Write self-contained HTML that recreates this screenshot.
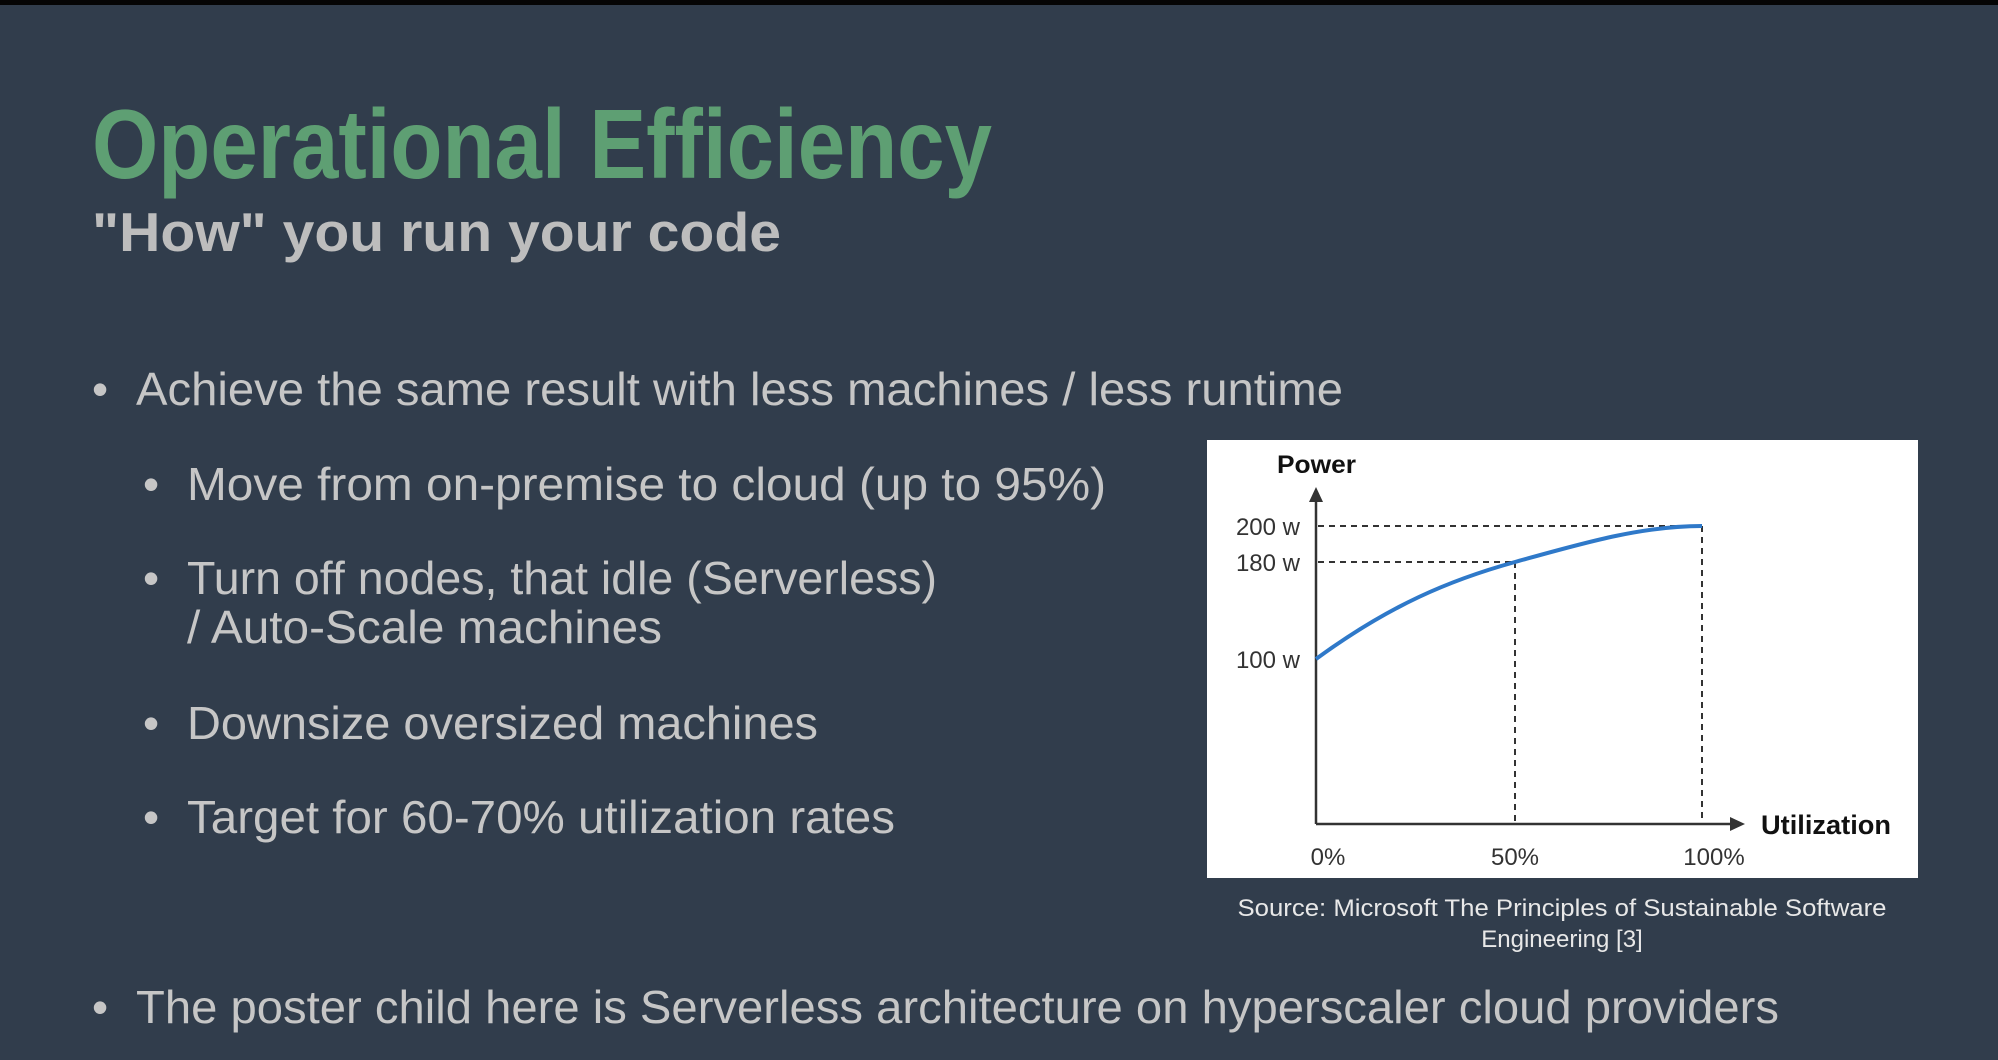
<!DOCTYPE html>
<html><head><meta charset="utf-8"><style>
html,body{margin:0;padding:0;background:#313d4c;}
svg{display:block;}
text{font-family:"Liberation Sans",Arial,sans-serif;}
</style></head><body>
<svg width="1998" height="1060" viewBox="0 0 1998 1060" xmlns="http://www.w3.org/2000/svg">
<rect width="1998" height="1060" fill="#313d4c"/>
<rect width="1998" height="5" fill="#050505"/>
<text x="92" y="178" font-size="98" font-weight="bold" fill="#5e9f73" textLength="900" lengthAdjust="spacingAndGlyphs">Operational Efficiency</text>
<text x="92" y="251" font-size="55" font-weight="bold" fill="#bdbdbd" textLength="689" lengthAdjust="spacingAndGlyphs">"How" you run your code</text>
<g fill="#c6c6c6" font-size="46">
<text x="92" y="405">•</text>
<text x="136" y="405" textLength="1207" lengthAdjust="spacingAndGlyphs">Achieve the same result with less machines / less runtime</text>
<text x="143" y="500">•</text>
<text x="187" y="500" textLength="919" lengthAdjust="spacingAndGlyphs">Move from on-premise to cloud (up to 95%)</text>
<text x="143" y="594">•</text>
<text x="187" y="594" textLength="750" lengthAdjust="spacingAndGlyphs">Turn off nodes, that idle (Serverless)</text>
<text x="187" y="643" textLength="475" lengthAdjust="spacingAndGlyphs">/ Auto-Scale machines</text>
<text x="143" y="739">•</text>
<text x="187" y="739" textLength="631" lengthAdjust="spacingAndGlyphs">Downsize oversized machines</text>
<text x="143" y="833">•</text>
<text x="187" y="833" textLength="708" lengthAdjust="spacingAndGlyphs">Target for 60-70% utilization rates</text>
<text x="92" y="1023">•</text>
<text x="136" y="1023" textLength="1643" lengthAdjust="spacingAndGlyphs">The poster child here is Serverless architecture on hyperscaler cloud providers</text>
</g>
<rect x="1207" y="440" width="711" height="438" fill="#ffffff"/>
<g stroke="#333" stroke-width="2" stroke-dasharray="6,5" fill="none">
<line x1="1318" y1="526" x2="1702" y2="526"/>
<line x1="1318" y1="562" x2="1515" y2="562"/>
<line x1="1515" y1="562" x2="1515" y2="822"/>
<line x1="1702" y1="526" x2="1702" y2="822"/>
</g>
<g stroke="#333" stroke-width="2.5" fill="none">
<line x1="1316" y1="824" x2="1316" y2="500"/>
<line x1="1316" y1="824" x2="1732" y2="824"/>
</g>
<polygon points="1316,487 1309,502 1323,502" fill="#333"/>
<polygon points="1745,824 1730,817 1730,831" fill="#333"/>
<path d="M1316,659 C1390,605 1450,580 1515,562 S1640,526 1702,526" stroke="#2f79c9" stroke-width="4" fill="none"/>
<text x="1277" y="473" font-size="25" font-weight="bold" fill="#111" textLength="79" lengthAdjust="spacingAndGlyphs">Power</text>
<g font-size="24" fill="#333" text-anchor="end">
<text x="1300" y="535">200 w</text>
<text x="1300" y="571">180 w</text>
<text x="1300" y="668">100 w</text>
</g>
<g font-size="24" fill="#333" text-anchor="middle">
<text x="1328" y="865">0%</text>
<text x="1515" y="865">50%</text>
<text x="1714" y="865">100%</text>
</g>
<text x="1761" y="834" font-size="27" font-weight="bold" fill="#111" textLength="130" lengthAdjust="spacingAndGlyphs">Utilization</text>
<g font-size="24" fill="#e8e8e8" text-anchor="middle">
<text x="1562" y="916" textLength="649" lengthAdjust="spacingAndGlyphs">Source: Microsoft  The Principles of Sustainable Software</text>
<text x="1562" y="947">Engineering [3]</text>
</g>
</svg>
</body></html>
